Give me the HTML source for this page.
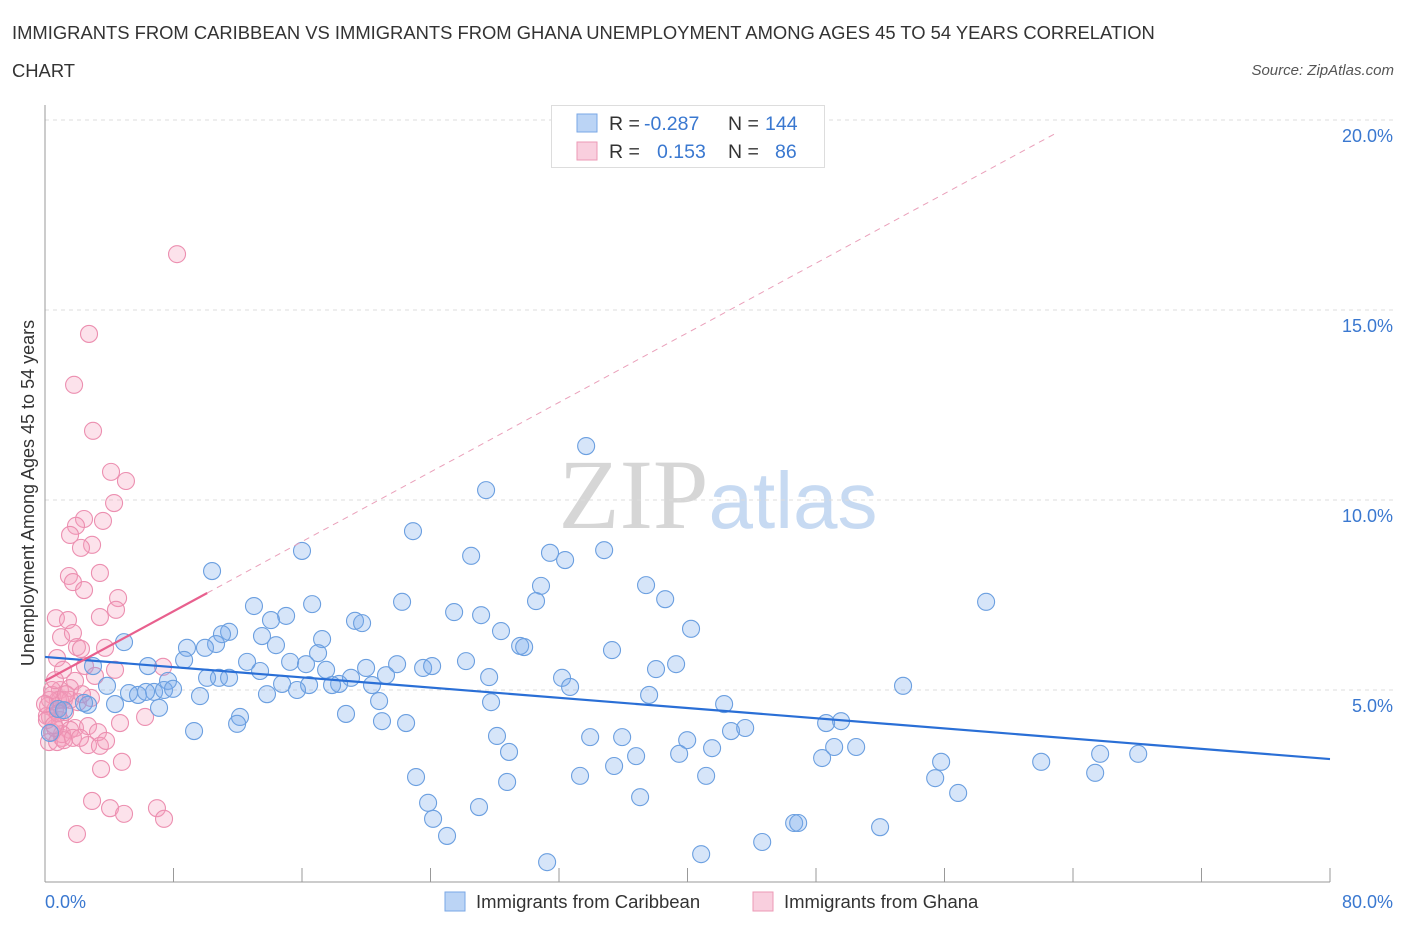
<!DOCTYPE html>
<html><head><meta charset="utf-8">
<style>
body{margin:0;background:#fff;font-family:"Liberation Sans",sans-serif;}
#wrap{position:relative;width:1406px;height:930px;overflow:hidden;}
.t{position:absolute;color:#333;}
</style></head>
<body>
<div id="wrap">
<div class="t" style="left:12px;top:14px;font-size:18.4px;line-height:38px;width:1195px;">IMMIGRANTS FROM CARIBBEAN VS IMMIGRANTS FROM GHANA UNEMPLOYMENT AMONG AGES 45 TO 54 YEARS CORRELATION CHART</div>
<div class="t" style="right:12px;top:62px;font-size:15px;font-style:italic;color:#555;">Source: ZipAtlas.com</div>
<svg id="svg" width="1406" height="930" style="position:absolute;left:0;top:0"></svg>
</div>
<script>
const xTicks=[0,8,16,24,32,40,48,56,64,72,80];
const yTicks=[5,10,15,20];
const yTickLabels=["5.0%","10.0%","15.0%","20.0%"];
const xEndLabels=["0.0%","80.0%"];
const blueX=[33.69,27.46,22.91,16.00,26.53,31.44,32.38,34.81,10.40,30.88,37.42,38.61,58.59,22.23,16.63,13.01,25.47,27.15,30.57,15.01,14.07,19.30,19.74,11.46,11.02,40.22,28.39,17.25,13.51,4.92,10.65,14.38,8.84,9.96,35.30,29.58,29.83,17.00,8.66,12.58,15.26,16.25,21.92,19.99,26.21,23.54,24.10,38.04,39.29,2.99,6.41,13.39,17.50,27.65,10.83,10.09,11.46,21.23,19.05,32.19,32.69,18.31,17.87,16.44,20.36,14.76,53.42,7.66,3.86,5.23,5.79,6.79,6.29,7.41,7.97,13.82,15.69,9.65,37.61,20.80,27.77,7.10,4.36,2.68,2.43,0.81,1.18,42.28,18.74,12.14,11.96,20.98,22.48,48.63,49.56,42.71,43.59,28.14,33.94,35.93,39.98,9.28,28.89,49.13,50.50,41.53,39.48,36.80,35.43,48.38,55.79,65.69,68.06,62.02,23.10,33.31,41.16,55.42,65.38,28.77,23.85,27.02,37.05,56.85,24.16,25.03,46.64,46.89,51.99,44.65,40.85,31.26,0.31];
const blueY=[11.42,10.26,9.18,8.66,8.53,8.61,8.42,8.68,8.13,7.74,7.76,7.39,7.32,7.32,7.26,7.21,7.05,6.97,7.34,6.95,6.84,6.82,6.76,6.53,6.47,6.61,6.55,6.34,6.42,6.26,6.21,6.18,6.11,6.11,6.05,6.16,6.13,5.97,5.79,5.74,5.74,5.68,5.68,5.58,5.76,5.58,5.63,5.55,5.68,5.63,5.63,5.50,5.53,5.34,5.32,5.32,5.32,5.39,5.32,5.32,5.08,5.16,5.13,5.13,5.13,5.16,5.11,5.24,5.11,4.92,4.87,4.95,4.95,5.00,5.03,4.89,5.00,4.84,4.87,4.71,4.68,4.53,4.63,4.61,4.66,4.50,4.47,4.63,4.37,4.29,4.11,4.18,4.13,4.13,4.18,3.92,4.00,3.79,3.76,3.76,3.68,3.92,3.37,3.50,3.50,3.47,3.32,3.26,3.00,3.21,3.11,3.32,3.32,3.11,2.71,2.74,2.74,2.68,2.82,2.58,2.03,1.92,2.18,2.29,1.61,1.16,1.50,1.50,1.39,1.00,0.68,0.47,3.87];
const pinkX=[8.22,2.74,1.81,2.99,4.11,5.04,4.30,2.43,1.93,3.61,2.93,2.24,1.56,1.49,1.74,2.43,3.42,4.55,4.42,0.68,1.43,3.42,1.00,1.74,3.74,1.99,2.24,0.75,1.12,2.49,7.35,3.11,1.87,4.36,1.56,0.93,0.44,1.18,2.05,2.86,0.19,0.62,0.31,0.93,1.25,1.87,1.56,2.68,3.30,1.06,0.44,4.67,6.23,0.25,0.75,1.06,1.18,2.68,3.42,1.74,2.18,3.80,4.79,3.49,2.93,4.05,4.92,6.97,7.41,1.99,0.62,0.12,0.81,1.56,0.93,0.31,0.44,0.12,0.00,0.81,0.56,1.31,2.30,0.62];
const pinkY=[16.47,14.37,13.03,11.82,10.74,10.50,9.92,9.50,9.32,9.45,8.82,8.74,9.08,8.00,7.84,7.63,8.08,7.42,7.11,6.89,6.84,6.92,6.39,6.50,6.11,6.13,6.08,5.84,5.53,5.63,5.61,5.37,5.24,5.53,5.05,5.00,4.87,4.74,4.68,4.79,4.58,4.47,4.29,4.21,4.42,4.00,3.95,4.05,3.89,3.74,3.89,4.13,4.29,3.63,3.63,3.84,3.68,3.55,3.53,3.74,3.74,3.66,3.11,2.92,2.08,1.89,1.74,1.89,1.61,1.21,4.00,4.32,4.74,4.74,4.74,4.74,5.00,4.21,4.63,4.39,4.08,4.89,4.89,5.26];
const blueTrend=[5.87,-0.0336];
const pinkTrend=[5.24,0.229];
const pinkSolidEnd=10.1, pinkDashEnd=63;

const X0=45,X1=1330,Y0=880,PXY=38;
const sx=v=>X0+(v/80)*(X1-X0);
const sy=v=>Y0-v*PXY;
const svg=document.getElementById('svg');
const NS='http://www.w3.org/2000/svg';
function mk(tag,attrs,parent){const e=document.createElementNS(NS,tag);for(const k in attrs)e.setAttribute(k,attrs[k]);(parent||svg).appendChild(e);return e;}

const wm=mk('text',{x:718,y:528,'text-anchor':'middle','font-size':100,'font-family':'Liberation Serif, serif'});


wm.innerHTML='<tspan fill="#d6d6d6">ZIP</tspan><tspan fill="#c7daf2" font-family="Liberation Sans, sans-serif" font-size="80">atlas</tspan>';

yTicks.forEach((t,i)=>{
 const g=mk('line',{x1:X0,x2:1395,y1:sy(t),y2:sy(t),stroke:'#dcdcdc','stroke-dasharray':'4,4'});
 
 
 const l=mk('text',{x:1393,y:sy(t)+22,'text-anchor':'end','font-size':18,fill:'#3a78d0'});
 
 
 l.textContent=yTickLabels[i];
});
const ya=mk('line',{x1:X0,x2:X0,y1:105,y2:882,stroke:'#999'});


const xa=mk('line',{x1:X0,x2:1330,y1:882,y2:882,stroke:'#999'});


xTicks.forEach(t=>{
 const k=mk('line',{x1:sx(t),x2:sx(t),y1:868,y2:882,stroke:'#999'});
 
 
});
[[0,'start',45],[80,'end',1393]].forEach((a,i)=>{
 const l=mk('text',{x:a[2],y:908,'text-anchor':a[1],'font-size':18,fill:'#3a78d0'});
 
 
 l.textContent=xEndLabels[i];
});
const yt=mk('text',{x:0,y:0,'text-anchor':'middle','font-size':18,fill:'#333',transform:'translate(34,493) rotate(-90)'});


yt.textContent='Unemployment Among Ages 45 to 54 years';

function pts(xs,ys,fill,stroke,name){
 xs.forEach((x,i)=>{
  const c=mk('circle',{cx:sx(x),cy:sy(ys[i]),r:8.5,fill:fill,stroke:stroke,'stroke-width':1.1});
  
  
 });
}
pts(pinkX,pinkY,'rgba(244,160,190,0.3)','#ec8fb0','ghana-point');
pts(blueX,blueY,'rgba(120,170,235,0.3)','#6b9fe0','caribbean-point');

const bt=mk('line',{x1:sx(0),y1:sy(blueTrend[0]),x2:sx(80),y2:sy(blueTrend[0]+80*blueTrend[1]),stroke:'#2a6fd6','stroke-width':2.2});


const pt=mk('line',{x1:sx(0),y1:sy(pinkTrend[0]),x2:sx(pinkSolidEnd),y2:sy(pinkTrend[0]+pinkSolidEnd*pinkTrend[1]),stroke:'#e8608e','stroke-width':2.2});


const pd=mk('line',{x1:sx(pinkSolidEnd),y1:sy(pinkTrend[0]+pinkSolidEnd*pinkTrend[1]),x2:sx(pinkDashEnd),y2:sy(pinkTrend[0]+pinkDashEnd*pinkTrend[1]),stroke:'#eaa0ba','stroke-width':1,'stroke-dasharray':'6,5'});



const lb=mk('rect',{x:551.5,y:105.5,width:273,height:62,fill:'#fff',stroke:'#ddd'});


[['rgba(120,170,235,0.5)','#7aa7e6','-0.287','144',123],['rgba(244,160,190,0.5)','#ec9ab6','0.153','86',151]].forEach((r,i)=>{
 const s=mk('rect',{x:577,y:r[4]-9,width:20,height:18,fill:r[0],stroke:r[1]});
 
 
 const t=mk('text',{x:609,y:r[4]+7,'font-size':19.5,fill:'#333'});
 
 
 t.innerHTML='R = <tspan x="'+(i?657:644)+'" fill="#3a78d0">'+r[2]+'</tspan><tspan x="728">N = </tspan><tspan x="'+(i?775:765)+'" fill="#3a78d0">'+r[3]+'</tspan>';
});
[['rgba(120,170,235,0.5)','#7aa7e6','Immigrants from Caribbean',445],['rgba(244,160,190,0.5)','#ec9ab6','Immigrants from Ghana',753]].forEach(r=>{
 const s=mk('rect',{x:r[3],y:892,width:20,height:19,fill:r[0],stroke:r[1]});
 
 
 const t=mk('text',{x:r[3]+31,y:908,'font-size':18.5,fill:'#333'});
 
 
 t.textContent=r[2];
});
</script>
</body></html>
